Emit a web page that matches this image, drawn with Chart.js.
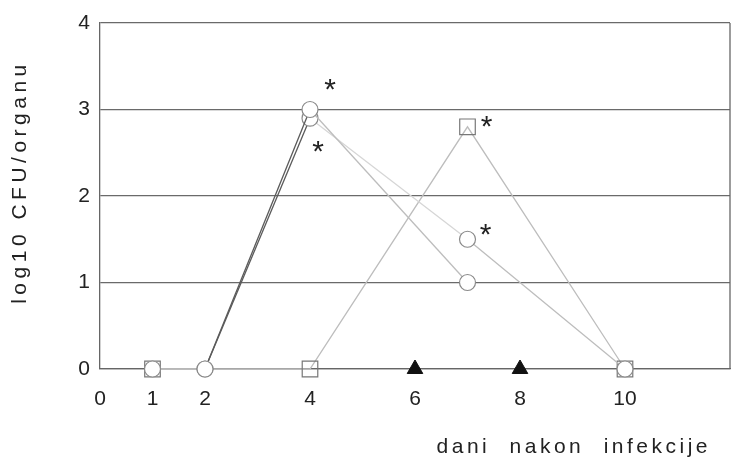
<!DOCTYPE html>
<html><head><meta charset="utf-8">
<script src="https://cdn.jsdelivr.net/npm/chart.js@4.4.1/dist/chart.umd.min.js"></script>
<style>html,body{margin:0;padding:0;background:#fff;}canvas{display:block}</style>
</head><body>
<canvas id="c" width="733" height="466"></canvas>
<script>
// ---- data ----
const xTickValues = [0, 1, 2, 4, 6, 8, 10];
const yTickValues = [0, 1, 2, 3, 4];
const circleADays = [2, 4, 7];
const circleAValues = [0, 3.0, 1.0];
const circleASignificant = [false, true, false];
const circleBDays = [1, 2, 4, 7, 10];
const circleBValues = [0, 0, 2.9, 1.5, 0];
const circleBSignificant = [false, false, true, true, false];
const squareDays = [1, 4, 7, 10];
const squareValues = [0, 0, 2.8, 0];
const squareSignificant = [false, false, true, false];
const triangleDays = [6, 8];
const triangleValues = [0, 0];
const xTitle = 'dani nakon infekcije';
const yTitle = 'log10 CFU/organu';

const pts = (xs, ys) => xs.map((x, i) => ({x: x, y: ys[i]}));

const DARK = '#5a5a5a', LIGHT = '#bdbdbd', FAINT = '#d6d6d6', MARK = '#8a8a8a';
const FONT = "'Liberation Sans', Arial, sans-serif";

// letter spacing for axis titles
const origDrawTitle = Chart.Scale.prototype.drawTitle;
Chart.Scale.prototype.drawTitle = function () {
  const t = this.options.title || {};
  const ctx = this.ctx;
  ctx.save();
  if (t.letterSpacing) ctx.letterSpacing = t.letterSpacing;
  if (t.wordSpacing) ctx.wordSpacing = t.wordSpacing;
  if (t.shift) ctx.translate(t.shift[0], t.shift[1]);
  origDrawTitle.call(this);
  ctx.restore();
};

const segColorA = ctx => (ctx.p0.parsed.x === 2 ? DARK : LIGHT);
const segColorB = ctx => (ctx.p0.parsed.x === 2 ? DARK : (ctx.p0.parsed.x === 4 ? FAINT : LIGHT));

const starPlugin = {
  id: 'stars',
  afterDatasetsDraw(chart) {
    const ctx = chart.ctx;
    ctx.save();
    ctx.font = '30px ' + FONT;
    ctx.fillStyle = '#222';
    ctx.textAlign = 'center';
    ctx.textBaseline = 'alphabetic';
    const m = ctx.measureText('*');
    const dy = (m.actualBoundingBoxAscent - m.actualBoundingBoxDescent) / 2;
    chart.data.datasets.forEach((ds, i) => {
      if (!ds.stars) return;
      const meta = chart.getDatasetMeta(i);
      ds.stars.forEach((s, j) => {
        if (!s) return;
        const el = meta.data[j];
        const off = ds.starOffsets[j];
        ctx.fillText('*', el.x + off[0], el.y + off[1] + dy);
      });
    });
    ctx.restore();
  },
  afterDraw(chart) {
    const {ctx, chartArea} = chart;
    ctx.save();
    ctx.strokeStyle = '#666';
    ctx.lineWidth = 1.3;
    ctx.beginPath();
    ctx.moveTo(chartArea.right, chartArea.top);
    ctx.lineTo(chartArea.right, chartArea.bottom);
    ctx.stroke();
    ctx.restore();
  }
};

new Chart(document.getElementById('c'), {
  type: 'scatter',
  data: {
    datasets: [
      {
        data: pts(circleADays, circleAValues),
        showLine: true, borderWidth: 1.3,
        segment: {borderColor: segColorA},
        pointStyle: 'circle', pointRadius: 8, pointBorderWidth: 1.2,
        pointBorderColor: MARK, pointBackgroundColor: '#fff',
        clip: false,
        stars: circleASignificant,
        starOffsets: [[0, 0], [20, -25], [0, 0]]
      },
      {
        data: pts(circleBDays, circleBValues),
        showLine: true, borderWidth: 1.3,
        segment: {borderColor: segColorB},
        pointStyle: 'circle', pointRadius: 8, pointBorderWidth: 1.2,
        pointBorderColor: MARK, pointBackgroundColor: '#fff',
        clip: false,
        stars: circleBSignificant,
        starOffsets: [[0, 0], [0, 0], [8, 28], [18, -10], [0, 0]]
      },
      {
        data: pts(squareDays, squareValues),
        showLine: true, borderWidth: 1.3,
        borderColor: LIGHT,
        pointStyle: 'rect', pointRadius: 11, pointBorderWidth: 1.2,
        pointBorderColor: '#777', pointBackgroundColor: 'rgba(255,255,255,0)',
        clip: false,
        stars: squareSignificant,
        starOffsets: [[0, 0], [0, 0], [19, -5], [0, 0]]
      },
      {
        data: pts(triangleDays, triangleValues),
        showLine: false,
        pointStyle: 'triangle', pointRadius: 9, pointBorderWidth: 1,
        pointBorderColor: '#111', pointBackgroundColor: '#111',
        clip: false
      }
    ]
  },
  options: {
    responsive: false,
    animation: false,
    devicePixelRatio: 1,
    layout: {autoPadding: false, padding: {top: 23, right: 3, left: 0, bottom: 0}},
    plugins: {legend: {display: false}, tooltip: {enabled: false}},
    scales: {
      x: {
        type: 'linear', min: 0, max: 12,
        afterBuildTicks: axis => { axis.ticks = xTickValues.map(v => ({value: v})); },
        afterFit: axis => { axis.height = 97; axis.paddingRight = 0; axis.paddingLeft = 0; },
        grid: {display: false, drawTicks: false},
        border: {display: true, color: '#666', width: 1.3},
        ticks: {padding: 18, color: '#222', font: {family: FONT, size: 21}, maxRotation: 0, autoSkip: false},
        title: {
          display: true, text: xTitle, align: 'end', color: '#222',
          font: {family: FONT, size: 21}, padding: {top: 0, bottom: 6},
          letterSpacing: '3.5px', wordSpacing: '10px', shift: [-19, 0]
        }
      },
      y: {
        type: 'linear', min: 0, max: 4,
        afterBuildTicks: axis => { axis.ticks = yTickValues.map(v => ({value: v})); },
        afterFit: axis => { axis.width = 100; },
        grid: {display: true, color: '#6a6a6a', lineWidth: 1.3, drawTicks: false},
        border: {display: true, color: '#666', width: 1.3},
        ticks: {padding: 10, color: '#222', font: {family: FONT, size: 21}},
        title: {
          display: true, text: yTitle, color: '#222',
          font: {family: FONT, size: 21}, padding: {top: 8, bottom: 0},
          letterSpacing: '4.5px', shift: [0, -14]
        }
      }
    }
  },
  plugins: [starPlugin]
});
</script>
</body></html>
